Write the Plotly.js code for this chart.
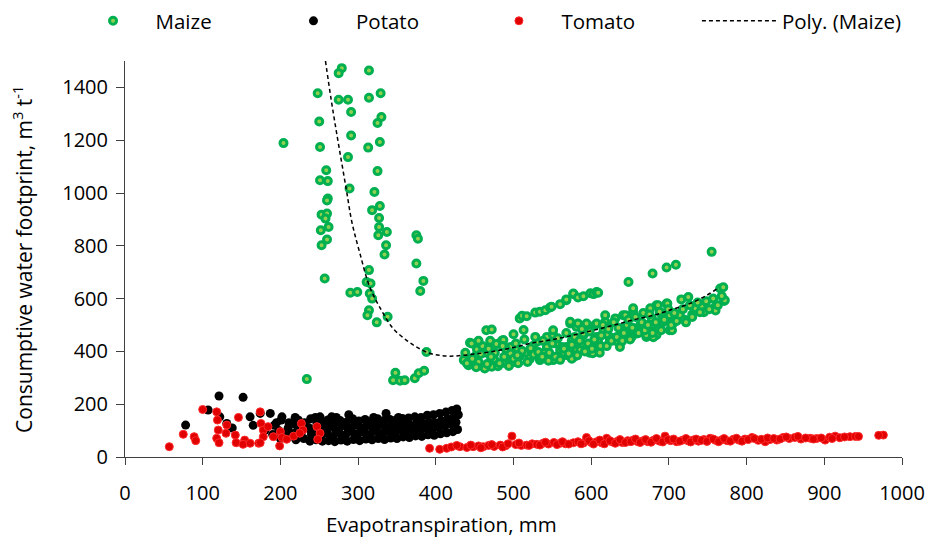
<!DOCTYPE html>
<html>
<head>
<meta charset="utf-8">
<script src="https://cdn.plot.ly/plotly-3.0.1.min.js"></script>
<style>
html,body{margin:0;padding:0;background:#fff;}
#chart{width:928px;height:538px;}
</style>
</head>
<body>
<div id="chart"></div>
<script>
// ---------- DATA ----------
const seriesNames = ["Maize", "Potato", "Tomato", "Poly. (Maize)"];
const xTicks = [0, 100, 200, 300, 400, 500, 600, 700, 800, 900, 1000];
const yTicks = [0, 200, 400, 600, 800, 1000, 1200, 1400];

const maizeX = [
  204, 279, 275, 314, 248, 275, 287, 314, 329, 291,
  250, 330, 325, 291, 251, 313, 328, 287, 325, 259,
  251, 261, 289, 321, 261, 260, 253, 260, 258, 318,
  328, 327, 262, 252, 327, 337, 260, 253, 326, 336,
  334, 375, 377, 375, 384, 380, 257, 290, 299, 314,
  311, 316, 315, 318, 314, 312, 324, 338, 388, 234,
  348, 345, 354, 360, 373, 378, 385,
  436, 442, 450, 444, 457, 446, 453, 463, 472, 480,
  470, 485, 487, 496, 496, 498, 500, 508, 513, 521,
  521, 530, 534, 534, 543, 543, 551, 551, 560, 562,
  568, 568, 573, 573, 581, 581, 583, 586, 590, 590,
  594, 594, 594, 603, 605, 607, 607, 609, 616, 618,
  618, 624, 624, 631, 637, 639, 641, 644, 646, 652,
  654, 654, 659, 663, 671, 671, 676, 678, 682, 684,
  684, 686, 691, 697, 698, 701, 701, 704, 714, 714,
  716, 725, 734, 742, 759, 771, 772, 766, 770, 755,
  465, 472, 508, 511, 517, 528, 534, 541, 547, 549,
  560, 568, 568, 577, 577, 583, 590, 599, 603, 607,
  607, 609, 648, 679, 697, 709, 455, 465, 475, 490,
  505, 515, 525, 540, 548, 555, 565, 575, 578, 588,
  598, 612, 620, 632, 645, 660, 668, 680, 692, 705,
  720, 730, 745, 760, 486, 551, 575, 602, 637, 680,
  440, 447, 452, 458, 460, 466, 468, 476, 478, 482,
  488, 490, 494, 500, 503, 506, 511, 514, 518, 522,
  526, 528, 532, 537, 538, 545, 546, 550, 554, 557,
  560, 565, 568, 571, 575, 579, 582, 585, 588, 592,
  596, 598, 601, 604, 611, 613, 615, 620, 622, 626,
  629, 633, 635, 640, 642, 648, 650, 653, 657, 661,
  665, 667, 669, 673, 675, 679, 683, 688, 690, 694,
  699, 703, 707, 710, 718, 722, 727, 730, 737, 740,
  748, 752, 757, 763, 768, 438, 455, 471, 486, 505
];
const maizeY = [
  1189, 1473, 1454, 1464, 1378, 1353, 1353, 1361, 1378, 1307,
  1271, 1288, 1265, 1218, 1174, 1172, 1193, 1136, 1083, 1086,
  1048, 1045, 1017, 1004, 979, 972, 918, 922, 903, 935,
  951, 905, 871, 859, 871, 852, 824, 802, 840, 802,
  767, 840, 827, 733, 667, 629, 676, 622, 625, 708,
  663, 657, 619, 600, 556, 537, 510, 531, 398, 295,
  319, 291, 289, 291, 298, 317, 327,
  367, 348, 380, 433, 405, 430, 407, 335, 342, 344,
  440, 440, 443, 417, 392, 357, 465, 382, 481, 371,
  379, 436, 367, 373, 417, 455, 462, 480, 405, 417,
  386, 417, 506, 512, 493, 405, 506, 405, 462, 468,
  500, 417, 506, 417, 500, 455, 506, 436, 480, 512,
  537, 443, 455, 525, 430, 462, 537, 537, 500, 455,
  550, 563, 468, 500, 455, 462, 563, 525, 468, 462,
  575, 575, 537, 581, 581, 480, 537, 480, 531, 537,
  597, 606, 563, 569, 566, 591, 594, 638, 643, 777,
  480, 483, 525, 535, 533, 547, 550, 556, 566, 569,
  579, 594, 597, 617, 619, 604, 609, 620, 617, 623,
  625, 622, 663, 695, 718, 728, 360, 395, 370, 360,
  410, 395, 420, 395, 372, 430, 395, 440, 380, 430,
  395, 420, 465, 440, 470, 480, 500, 500, 510, 505,
  520, 540, 548, 555, 356, 367, 372, 393, 417, 454,
  355, 372, 340, 390, 420, 352, 410, 395, 428, 355,
  380, 410, 345, 372, 430, 355, 402, 445, 360, 412,
  388, 455, 398, 380, 440, 365, 395, 430, 380, 450,
  368, 410, 470, 392, 425, 455, 385, 440, 485, 400,
  430, 475, 410, 445, 395, 460, 500, 420, 485, 440,
  510, 455, 490, 440, 470, 520, 445, 490, 530, 470,
  510, 545, 480, 500, 540, 470, 510, 550, 480, 520,
  560, 500, 545, 515, 560, 510, 575, 530, 585, 548,
  590, 560, 600, 575, 610, 395, 440, 380, 420, 385
];

const potatoX = [
  78, 121, 152, 107, 122, 131, 138, 161, 174, 187, 165, 180, 195, 202, 210, 217, 223, 234, 240, 251, 266, 258,
  190, 192, 200, 198, 201, 210, 208, 211, 220, 218,
  221, 219, 230, 228, 231, 238, 240, 237, 239, 246,
  244, 247, 245, 254, 252, 255, 253, 262, 260, 263,
  261, 270, 268, 271, 269, 272, 278, 276, 279, 277,
  286, 284, 287, 285, 288, 294, 292, 295, 293, 302,
  300, 303, 301, 310, 308, 311, 309, 318, 316, 319,
  317, 320, 326, 324, 327, 325, 334, 332, 335, 333,
  336, 342, 340, 343, 341, 350, 348, 351, 349, 352,
  358, 356, 359, 357, 366, 364, 367, 365, 374, 372,
  375, 373, 382, 380, 383, 381, 390, 388, 391, 389,
  398, 396, 399, 397, 406, 404, 407, 405, 414, 412,
  415, 413, 422, 420, 423, 421, 428, 426, 429, 427
];
const potatoY = [
  121, 231, 226, 178, 152, 127, 110, 152, 165, 165, 120, 100, 130, 152, 110, 127, 140, 115, 95, 152, 152, 120,
  85, 120, 70, 100, 140, 75, 95, 130, 65, 90,
  120, 150, 70, 100, 130, 60, 85, 110, 145, 65,
  95, 125, 150, 60, 80, 105, 135, 62, 90, 115,
  140, 58, 78, 100, 125, 150, 64, 92, 118, 138,
  60, 84, 108, 132, 160, 66, 96, 120, 145, 62,
  88, 112, 136, 68, 94, 118, 142, 65, 86, 110,
  134, 150, 70, 98, 122, 145, 66, 90, 114, 138,
  165, 72, 96, 120, 142, 70, 92, 118, 140, 150,
  76, 100, 124, 146, 74, 96, 120, 148, 80, 104,
  128, 152, 78, 100, 126, 150, 84, 108, 132, 158,
  82, 106, 130, 160, 88, 112, 138, 165, 92, 118,
  144, 170, 96, 124, 150, 176, 104, 132, 160, 182
];

const tomatoX = [
  57, 75, 89, 91, 100, 118, 119, 120, 118, 121,
  131, 130, 142, 143, 146, 154, 152, 161, 172, 174,
  175, 178, 184, 178, 174, 191, 200, 202, 199, 208,
  217, 227, 229, 225, 247, 251, 248,
  392, 405, 414, 420, 431, 440, 448, 455, 461, 468,
  475, 483, 490, 498, 503, 510, 517, 524, 530, 538,
  545, 552, 560, 567, 577, 583, 590, 594, 600, 607,
  614, 620, 627, 634, 640, 647, 654, 660, 666, 673,
  680, 688, 695, 702, 710, 718, 725, 731, 738, 745,
  753, 760, 768, 775, 783, 790, 798, 807, 815, 824,
  830, 839, 847, 855, 862, 870, 882, 890, 901, 907,
  914, 920, 933, 940, 976, 970,
  427, 445, 458, 472, 486, 493, 507, 520, 534, 541,
  556, 563, 571, 587, 597, 603, 611, 617, 624, 631,
  637, 644, 651, 657, 663, 670, 677, 684, 692, 699,
  706, 714, 722, 728, 735, 742, 749, 757, 764, 771,
  779, 787, 794, 802, 810, 819, 827, 835, 843, 851,
  866, 876, 886, 896, 910, 926, 944
];
const tomatoY = [
  39, 86, 77, 62, 180, 171, 140, 102, 71, 54,
  121, 90, 83, 54, 150, 64, 48, 52, 52, 171,
  127, 102, 115, 77, 54, 77, 96, 74, 42, 67,
  79, 127, 102, 90, 115, 90, 67,
  33, 29, 33, 38, 39, 36, 39, 42, 39, 44,
  40, 45, 43, 79, 47, 44, 45, 50, 48, 52,
  49, 55, 52, 50, 54, 58, 53, 74, 55, 58,
  53, 71, 57, 60, 55, 62, 64, 58, 61, 58,
  63, 60, 79, 62, 58, 64, 61, 64, 60, 66,
  71, 63, 65, 62, 67, 64, 68, 74, 63, 58,
  66, 64, 74, 70, 74, 68, 71, 70, 64, 75,
  79, 73, 77, 78, 83, 82,
  44, 45, 35, 47, 38, 50, 53, 44, 45, 56,
  47, 58, 49, 50, 62, 49, 64, 50, 62, 52,
  66, 55, 58, 68, 55, 66, 56, 70, 57, 66,
  68, 60, 70, 57, 68, 63, 59, 68, 58, 70,
  60, 71, 60, 66, 70, 67, 72, 70, 68, 76,
  78, 72, 68, 72, 70, 76, 78
];

// polynomial trend line for maize
const polyX = [258, 265, 272.5, 285, 292, 302, 315, 330, 345, 362, 375, 392, 405, 418, 435, 455, 478, 500, 521, 543, 564, 585, 607, 630, 655, 684, 705, 727, 749, 764];
const polyY = [1500, 1360, 1225, 1010, 890, 775, 644, 556, 487, 443, 417, 393, 385, 382, 385, 392, 402, 415, 430, 441, 453, 467, 483, 500, 520, 540, 560, 581, 613, 641];

// ---------- CHART ----------
const FONT = '"Open Sans", "Noto Sans", sans-serif';
const traces = [
  {type:'scatter', mode:'markers', name:seriesNames[0], x:maizeX, y:maizeY, legend:'legend',
   marker:{size:7, color:'#92d050', line:{color:'#00b050', width:3}}},
  {type:'scatter', mode:'markers', name:seriesNames[1], x:potatoX, y:potatoY, legend:'legend2',
   marker:{size:9, color:'#000000'}},
  {type:'scatter', mode:'markers', name:seriesNames[2], x:tomatoX, y:tomatoY, legend:'legend3',
   marker:{size:8, color:'#e00000', line:{color:'#ff2a2a', width:1}}},
  {type:'scatter', mode:'lines', name:seriesNames[3], x:polyX, y:polyY, legend:'legend4',
   line:{color:'#000000', width:1.5, dash:'4px,3px', shape:'spline'}}
];

function leg(x){
  return {orientation:'h', xref:'container', yref:'container', x:x, y:0.961,
          xanchor:'left', yanchor:'middle', itemwidth:75, bgcolor:'rgba(0,0,0,0)',
          font:{family:FONT, size:20.5, color:'#000'}, borderwidth:0};
}

const axisCommon = {showgrid:false, zeroline:false, showline:true, linecolor:'#404040', linewidth:1,
  ticks:'outside', tickcolor:'#404040', tickwidth:1, tickfont:{family:FONT, size:20, color:'#000'}};

const layout = {
  width:928, height:538,
  margin:{l:125, r:26, t:61, b:81, pad:0},
  paper_bgcolor:'#ffffff', plot_bgcolor:'#ffffff',
  font:{family:FONT, size:20, color:'#000'},
  showlegend:true,
  xaxis:Object.assign({}, axisCommon, {range:[0,1000], tickvals:xTicks, ticklen:7, ticklabelstandoff:11}),
  yaxis:Object.assign({}, axisCommon, {range:[0,1500], tickvals:yTicks, ticklen:8, ticklabelstandoff:4}),
  legend:leg(0.076), legend2:leg(0.292), legend3:leg(0.5134), legend4:leg(0.751),
  annotations:[
    {text:'Evapotranspiration, mm', xref:'paper', yref:'paper', x:0.4067, y:-0.1692,
     xanchor:'center', yanchor:'middle', showarrow:false, font:{family:FONT, size:20.5, color:'#000'}},
    {text:'Consumptive water footprint, m<sup>3</sup> t<sup>-1</sup>', xref:'paper', yref:'paper',
     x:-0.1326, y:0.5, xanchor:'center', yanchor:'middle', textangle:-90, showarrow:false,
     font:{family:FONT, size:21, color:'#000'}}
  ]
};

Plotly.newPlot('chart', traces, layout, {displayModeBar:false, staticPlot:true});
</script>
</body>
</html>
